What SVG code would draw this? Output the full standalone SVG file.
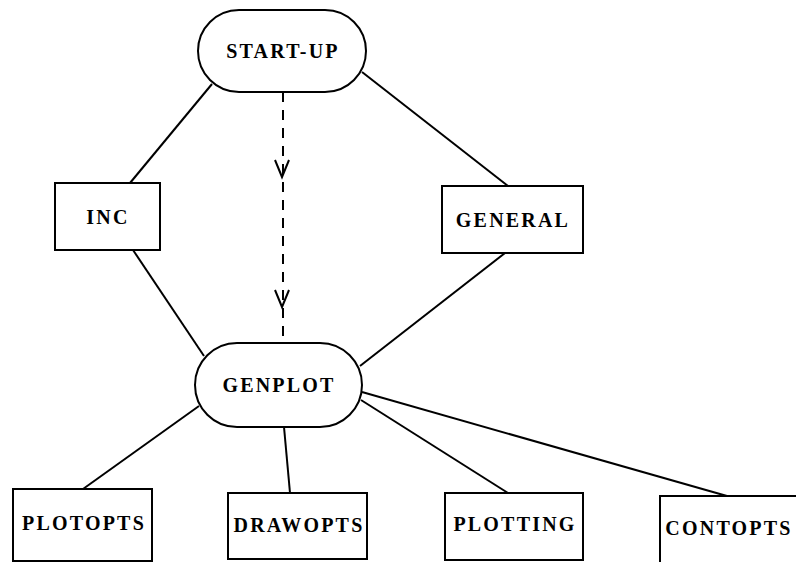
<svg xmlns="http://www.w3.org/2000/svg" width="796" height="562" viewBox="0 0 796 562">
<style>
.n{fill:#fff;stroke:#000;stroke-width:2}
.t{font-family:"Liberation Serif","Times New Roman",serif;font-weight:bold;font-size:20px;letter-spacing:2.2px;text-anchor:middle;fill:#000}
.c{stroke:#000;stroke-width:2;fill:none}
.d{stroke:#000;stroke-width:2;fill:none;stroke-dasharray:10 8}
</style>
<rect width="796" height="562" fill="#fff"/>
<g id="connectors">
<line class="c" x1="212" y1="84" x2="130" y2="183"/>
<line class="c" x1="362" y1="72" x2="508" y2="186"/>
<line class="c" x1="133" y1="250" x2="204" y2="356"/>
<line class="c" x1="505" y1="253" x2="360" y2="366"/>
<line class="d" x1="283" y1="92" x2="283" y2="343"/>
<polyline class="c" points="275,160 282,177 289,160"/>
<polyline class="c" points="275,290 282,307 289,290"/>
<line class="c" x1="199" y1="406" x2="83" y2="489"/>
<line class="c" x1="284" y1="427" x2="290" y2="493"/>
<line class="c" x1="361" y1="400" x2="508" y2="493"/>
<line class="c" x1="362" y1="392" x2="727" y2="496"/>
</g>
<g id="startup"><rect class="n" x="198" y="10" width="168" height="82" rx="41"/><text class="t" x="283" y="58">START-UP</text></g>
<g id="inc"><rect class="n" x="55" y="183" width="105" height="67"/><text class="t" x="108" y="224">INC</text></g>
<g id="general"><rect class="n" x="442" y="186" width="141" height="67"/><text class="t" x="513" y="227">GENERAL</text></g>
<g id="genplot"><rect class="n" x="195" y="343" width="167" height="84" rx="42"/><text class="t" x="279" y="392">GENPLOT</text></g>
<g id="plotopts"><rect class="n" x="13" y="489" width="139" height="72"/><text class="t" x="84" y="530">PLOTOPTS</text></g>
<g id="drawopts"><rect class="n" x="228" y="493" width="139" height="66"/><text class="t" x="299" y="532">DRAWOPTS</text></g>
<g id="plotting"><rect class="n" x="445" y="493" width="138" height="67"/><text class="t" x="515" y="531">PLOTTING</text></g>
<g id="contopts"><rect class="n" x="660" y="496" width="160" height="70"/><text class="t" x="729" y="535">CONTOPTS</text></g>
</svg>
